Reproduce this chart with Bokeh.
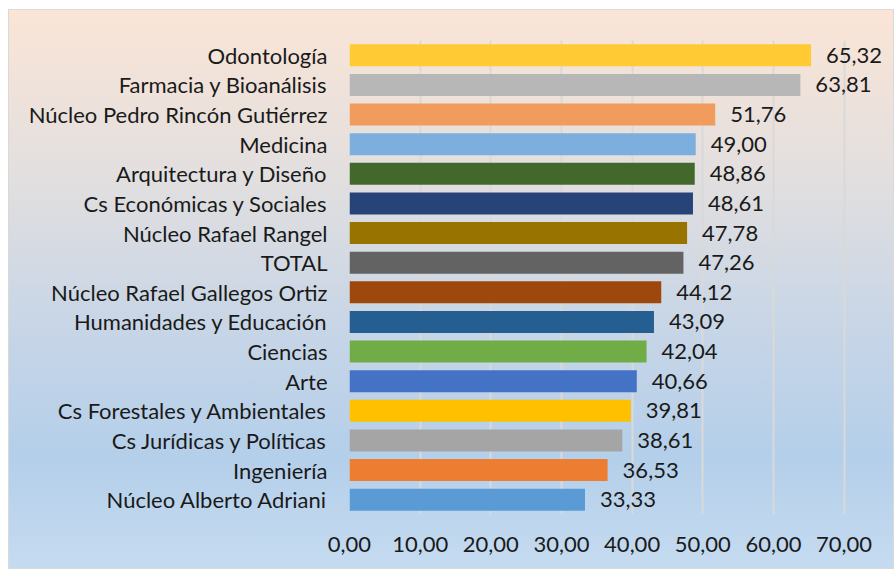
from bokeh.plotting import figure
from bokeh.models import ColumnDataSource, CustomJSTickFormatter, FixedTicker, Range1d
from bokeh.embed import file_html
from bokeh.resources import INLINE
from bokeh.core.properties import value

categories = [
    "Odontología", "Farmacia y Bioanálisis", "Núcleo Pedro Rincón Gutiérrez",
    "Medicina", "Arquitectura y Diseño", "Cs Económicas y Sociales",
    "Núcleo Rafael Rangel", "TOTAL", "Núcleo Rafael Gallegos Ortiz",
    "Humanidades y Educación", "Ciencias", "Arte",
    "Cs Forestales y Ambientales", "Cs Jurídicas y Políticas", "Ingeniería",
    "Núcleo Alberto Adriani",
]
values = [65.32, 63.81, 51.76, 49.00, 48.86, 48.61, 47.78, 47.26,
          44.12, 43.09, 42.04, 40.66, 39.81, 38.61, 36.53, 33.33]
colors = ["#FFCA33", "#B7B7B7", "#F19B5C", "#7CAFDD", "#43682B", "#264478",
          "#997300", "#636363", "#9E480E", "#255E91", "#70AD47", "#4472C4",
          "#FFC000", "#A5A5A5", "#ED7D31", "#5B9BD5"]
x_ticks = [0, 10, 20, 30, 40, 50, 60, 70]

FONT = "Lato"
FS = "22px"
TXT = "#1a1a1a"

labels = [f"{v:.2f}".replace(".", ",") for v in values]
src = ColumnDataSource(dict(cat=categories, val=values, col=colors, lab=labels))

p = figure(width=886, height=560, y_range=list(reversed(categories)),
           x_range=Range1d(0, 76), output_backend="svg", toolbar_location=None,
           min_border_left=341, min_border_right=8, min_border_top=31,
           min_border_bottom=55)
p.margin = (9, 0, 0, 8)

p.styles = {
    "background": "linear-gradient(to bottom, #FBE5D6 0%, #E2DFDF 30%, #C9D6E6 55%, #B4CFEA 80%, #C5DBF0 100%)",
    "outline": "1px solid #D9D9D9",
    "outline-offset": "-1px",
}
p.background_fill_alpha = 0
p.border_fill_alpha = 0
p.outline_line_color = None

p.hbar(y="cat", right="val", left=0, height=0.74, color="col", source=src,
       line_color=None)
p.text(x="val", y="cat", text="lab", source=src, x_offset=15,
       text_baseline="middle", text_align="left", text_font=value(FONT),
       text_font_size=FS, text_color=TXT)

p.xaxis.ticker = FixedTicker(ticks=x_ticks)
p.xaxis.formatter = CustomJSTickFormatter(code="return tick.toFixed(2).replace('.', ',');")
p.xaxis.axis_line_color = None
p.xaxis.major_tick_line_color = None
p.xaxis.minor_tick_line_color = None
p.xaxis.major_label_standoff = 16
p.xaxis.major_label_text_font = FONT
p.xaxis.major_label_text_font_size = FS
p.xaxis.major_label_text_color = TXT

p.yaxis.axis_line_color = None
p.yaxis.major_tick_line_color = None
p.yaxis.minor_tick_line_color = None
p.yaxis.major_label_standoff = 16
p.yaxis.major_label_text_font = FONT
p.yaxis.major_label_text_font_size = FS
p.yaxis.major_label_text_color = TXT

p.ygrid.grid_line_color = None
p.xgrid.grid_line_color = "#D9D9D9"
p.xgrid.grid_line_width = 2

open("out.html", "w").write(file_html(p, INLINE))
